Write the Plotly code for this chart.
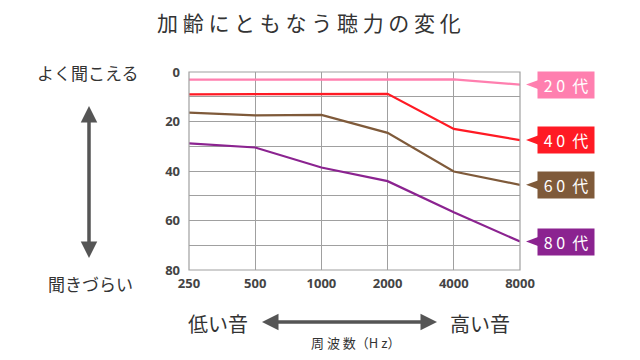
import math
import plotly.graph_objects as go

freqs = [250, 500, 1000, 2000, 4000, 8000]
freq_labels = ["250", "500", "1000", "2000", "4000", "8000"]
s20 = [3.1, 3.0, 3.0, 2.8, 3.0, 5.1]
s40 = [9.0, 9.0, 8.9, 8.8, 23.0, 27.5]
s60 = [16.4, 17.5, 17.3, 24.6, 40.2, 45.6]
s80 = [28.8, 30.5, 38.6, 44.1, 56.7, 68.5]
series_names = ["2 0  代", "4 0  代", "6 0  代", "8 0  代"]
series_colors = ["#FF7FAF", "#FF1A24", "#7F5A3A", "#8B2390"]
series_values = [s20, s40, s60, s80]
y_ticks = [0, 20, 40, 60, 80]

W, H = 640, 360
OFF = 8
ML, MT = 189 - OFF, 72 - OFF
PW, PH = 331, 198
MR, MB = W - ML - PW, H - MT - PH


def px(x):
    return (x - OFF - ML) / PW


def py(y):
    return (MT + PH - (y - OFF)) / PH


JP = "Noto Sans CJK JP"
fig = go.Figure()
for name, col, vals in zip(series_names, series_colors, series_values):
    fig.add_trace(go.Scatter(x=freqs, y=vals, mode="lines", name=name,
                             line=dict(color=col, width=2.2), showlegend=False,
                             hoverinfo="skip"))

annotations = []
shapes = []
for name, col, vals in zip(series_names, series_colors, series_values):
    yv = vals[-1]
    annotations.append(dict(xref="paper", yref="y", x=px(566), y=yv, text=name,
                            showarrow=False, bgcolor=col, width=54, height=24,
                            font=dict(family=JP, size=16, color="white"),
                            xanchor="center", yanchor="middle"))
    shapes.append(dict(type="path", xref="paper", yref="y",
                       path=f"M {px(526)} {yv} L {px(540)} {yv-2.1} L {px(540)} {yv+2.1} Z",
                       fillcolor=col, line=dict(width=0)))

# outer box
shapes.append(dict(type="rect", xref="paper", yref="paper", x0=0, x1=1, y0=0, y1=1,
                   line=dict(color="#A0A0A0", width=1.2)))

txt = "#333333"


def label(x, y, text, size):
    return dict(xref="paper", yref="paper", x=px(x), y=py(y), text=text, showarrow=False,
                font=dict(family=JP, size=size, color=txt), xanchor="center", yanchor="middle")


annotations += [
    label(309, 22, "加 齢 に と も な う 聴 力 の 変 化", 21),
    label(88, 72, "よく聞こえる", 17),
    label(90, 283, "聞きづらい", 17),
    label(218, 323, "低い音", 20),
    label(480, 323, "高い音", 20),
    label(355, 342, "周 波 数（H z）", 13),
]

# double arrows
arrow_col = "#555555"
for (x0, y0, x1, y1) in [(89, 250, 89, 106), (89, 114, 89, 258), (270, 322, 437, 322), (429, 322, 262, 322)]:
    annotations.append(dict(xref="paper", yref="paper", x=px(x1), y=py(y1),
                            ax=x0 - x1, ay=y0 - y1,
                            text="", showarrow=True, arrowhead=2, arrowsize=1.1,
                            arrowwidth=3, arrowcolor=arrow_col))

fig.update_layout(
    width=W, height=H,
    margin=dict(l=ML, r=MR, t=MT, b=MB),
    paper_bgcolor="white", plot_bgcolor="white",
    annotations=annotations, shapes=shapes,
    xaxis=dict(type="log", range=[math.log10(250), math.log10(8000)],
               tickvals=freqs, ticktext=freq_labels, showgrid=True,
               gridcolor="#A0A0A0", gridwidth=1, zeroline=False, showline=False,
               ticks="", ticklabelstandoff=4,
               tickfont=dict(family="Open Sans", size=13, color="#444444", weight="bold")),
    yaxis=dict(range=[80, 0], tickvals=y_ticks, showgrid=True, gridcolor="#A0A0A0",
               gridwidth=1, zeroline=False, showline=False, ticks="",
               minor=dict(dtick=10, showgrid=True, gridcolor="#A0A0A0", gridwidth=1),
               tickfont=dict(family="Open Sans", size=13, color="#444444", weight="bold"),
               ticklabelstandoff=8),
)

fig.write_html("out.html")
